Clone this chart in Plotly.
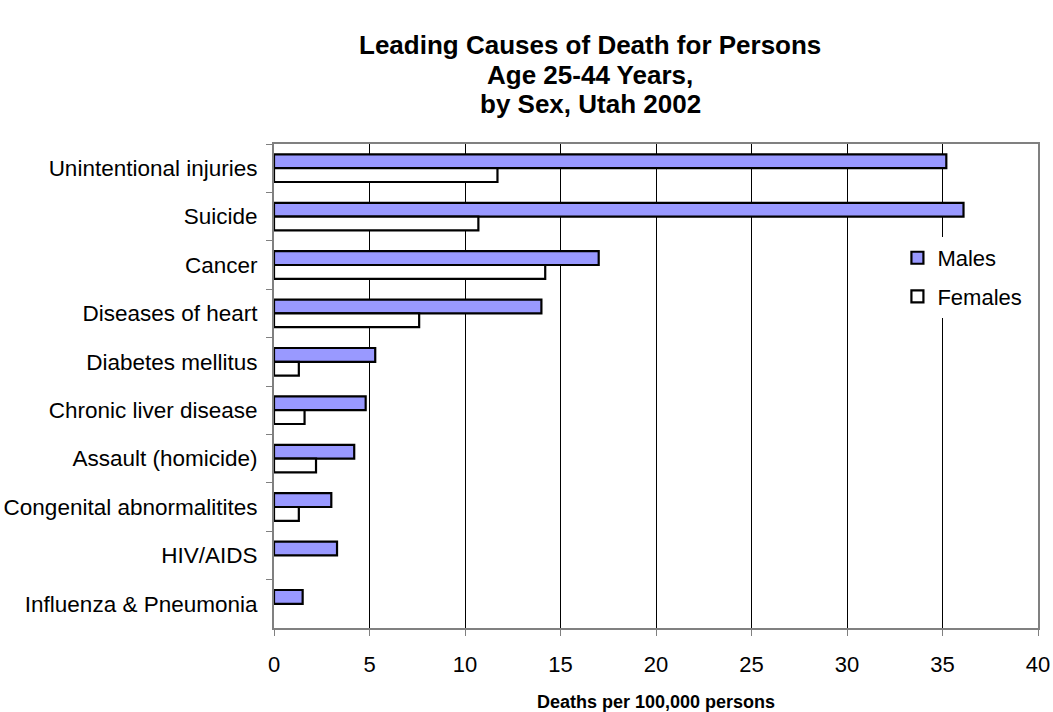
import plotly.graph_objects as go

causes = [
    "Unintentional injuries",
    "Suicide",
    "Cancer",
    "Diseases of heart",
    "Diabetes mellitus",
    "Chronic liver disease",
    "Assault (homicide)",
    "Congenital abnormalitites",
    "HIV/AIDS",
    "Influenza & Pneumonia",
]
males = [35.2, 36.1, 17.0, 14.0, 5.3, 4.8, 4.2, 3.0, 3.3, 1.5]
females = [11.7, 10.7, 14.2, 7.6, 1.3, 1.6, 2.2, 1.3, None, None]
x_ticks = [0, 5, 10, 15, 20, 25, 30, 35, 40]
title_lines = [
    "Leading Causes of Death for Persons",
    "Age 25-44 Years,",
    "by Sex, Utah 2002",
]

FONT = "Liberation Sans, Arial, sans-serif"

# plot area in pixels: left 274, right 1038, top 144, bottom 628
PLOT_TOP, PLOT_H = 144, 484

fig = go.Figure()
fig.add_trace(go.Bar(
    y=causes, x=males, name="Males", orientation="h", legendgroup="m",
    marker=dict(color="#9999FF", line=dict(color="black", width=2.2)),
))
fig.add_trace(go.Bar(
    y=causes, x=females, name="Females", orientation="h", legendgroup="f",
    marker=dict(color="white", line=dict(color="black", width=2.2)),
))

# three-line bold heading, centred a little left of the plot centre
for line, py in zip(title_lines, [45, 75, 104]):
    fig.add_annotation(
        text=f"<b>{line}</b>", showarrow=False,
        xref="paper", yref="paper",
        x=(590 - 274) / 764, y=(PLOT_TOP + PLOT_H - py) / PLOT_H,
        xanchor="center", yanchor="middle",
        font=dict(family=FONT, size=26, color="black"),
    )

fig.update_layout(
    width=1053, height=712,
    margin=dict(l=274, r=15, t=144, b=84),
    paper_bgcolor="white", plot_bgcolor="white",
    barmode="group", bargap=0.43, bargroupgap=0,
    font=dict(family=FONT, size=22.5, color="black"),
    legend=dict(
        x=0.816, y=0.808, xanchor="left", yanchor="top",
        bgcolor="white", borderwidth=0,
        font=dict(family=FONT, size=22, color="black"),
        traceorder="grouped", tracegroupgap=7,
    ),
    showlegend=True,
)

fig.update_xaxes(
    range=[0, 40], tickvals=x_ticks,
    showgrid=True, gridcolor="black", gridwidth=1,
    showline=True, linecolor="#808080", linewidth=2, mirror=True,
    ticks="outside", ticklen=6, tickcolor="#808080", tickwidth=1,
    ticklabelstandoff=10, tickfont=dict(size=22),
    zeroline=False, automargin=False,
    title=dict(text="<b>Deaths per 100,000 persons</b>",
               font=dict(family=FONT, size=18, color="black"), standoff=22),
)
fig.update_yaxes(
    autorange="reversed", type="category",
    showgrid=False, automargin=False,
    showline=True, linecolor="#808080", linewidth=2, mirror=True,
    ticks="outside", ticklen=6, tickcolor="#808080", tickwidth=1,
    tickson="boundaries", ticklabelstandoff=10,
)

fig.write_html("out.html")
